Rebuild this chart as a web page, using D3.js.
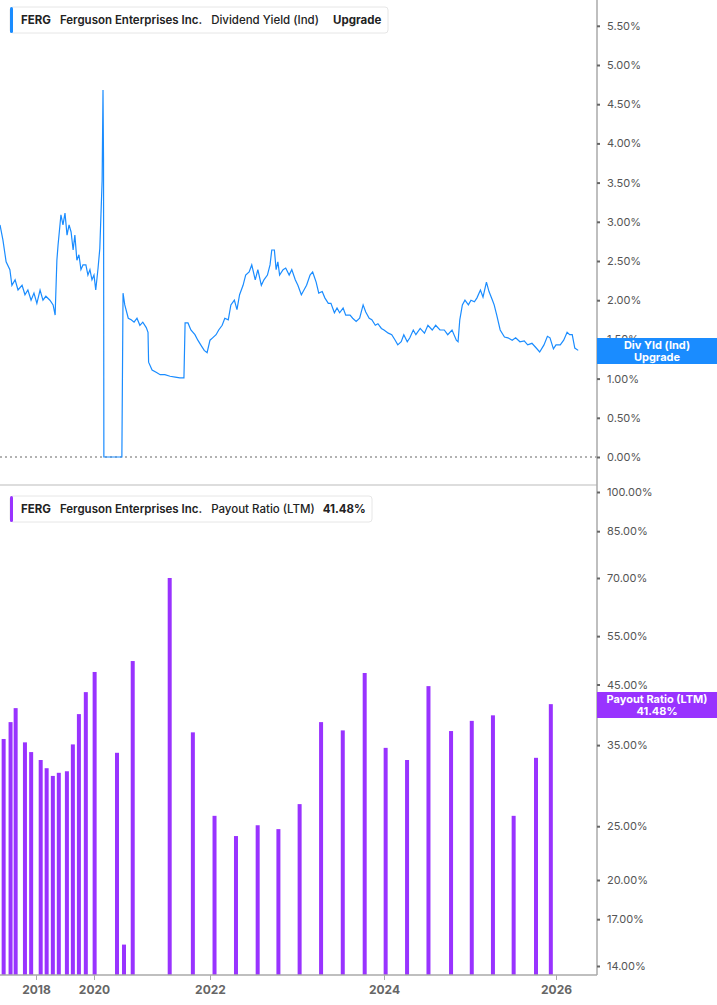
<!DOCTYPE html>
<html><head><meta charset="utf-8">
<script src="https://cdn.jsdelivr.net/npm/d3@7"></script>
<style>body{margin:0;background:#fff;font-family:Inter,"Noto Sans",sans-serif;}</style>
</head><body>
<script>
// dividend yield (%), dates as decimal years
var yldDates = [2016.76,2016.86,2016.97,2017.10,2017.17,2017.28,2017.38,2017.52,2017.62,2017.72,2017.83,2017.93,2018.03,2018.14,2018.24,2018.34,2018.48,2018.59,2018.66,2018.72,2018.76,2018.86,2018.93,2019.00,2019.07,2019.14,2019.21,2019.28,2019.34,2019.41,2019.48,2019.55,2019.62,2019.72,2019.79,2019.86,2019.93,
 2020.00,2020.03,2020.07,2020.10,2020.14,2020.155,2020.164,2020.17,2020.48,2020.50,2020.53,2020.59,2020.64,2020.69,2020.74,2020.79,2020.84,2020.90,2020.93,2020.94,2021.00,2021.07,2021.14,2021.22,2021.31,2021.40,2021.48,2021.55,2021.57,2021.62,2021.67,2021.74,2021.79,2021.84,2021.90,2021.95,
 2022.00,2022.03,2022.07,2022.10,2022.14,2022.17,2022.21,2022.24,2022.28,2022.31,2022.34,2022.38,2022.41,2022.45,2022.48,2022.52,2022.55,2022.59,2022.62,2022.66,2022.69,2022.71,2022.74,2022.76,2022.78,2022.80,2022.84,2022.87,2022.91,2022.94,2022.98,2023.01,2023.05,2023.08,2023.11,2023.15,2023.18,2023.22,2023.25,2023.29,2023.32,2023.36,2023.39,2023.43,2023.46,2023.49,2023.53,2023.56,2023.61,2023.64,2023.68,2023.72,2023.76,2023.79,2023.83,2023.86,2023.90,2023.93,2023.97,
 2024.00,2024.05,2024.09,2024.13,2024.16,2024.20,2024.23,2024.27,2024.30,2024.34,2024.37,2024.42,2024.47,2024.51,2024.56,2024.60,2024.65,2024.70,2024.74,2024.79,2024.84,2024.86,2024.88,2024.91,2024.94,2024.98,2025.01,2025.05,2025.08,2025.12,2025.15,2025.19,2025.22,2025.26,2025.28,2025.31,2025.35,2025.40,2025.44,2025.49,2025.53,2025.58,2025.63,2025.67,2025.72,2025.77,2025.81,2025.86,2025.90,2025.93,2025.97,2026.00,2026.05,2026.09,2026.13,2026.16,2026.19,2026.22,2026.26];
var yldValues = [2.96,2.77,2.49,2.39,2.19,2.26,2.13,2.19,2.07,2.13,2.00,2.09,1.96,2.13,2.00,2.05,2.00,1.94,1.81,2.51,2.70,3.09,2.96,3.11,2.83,2.96,2.87,2.64,2.83,2.51,2.58,2.39,2.45,2.45,2.32,2.39,2.26,
 2.32,2.13,2.41,2.66,3.53,4.68,3.79,0,0,2.09,1.94,1.77,1.75,1.72,1.77,1.68,1.72,1.65,1.59,1.21,1.11,1.08,1.05,1.05,1.03,1.02,1.01,1.01,1.71,1.71,1.62,1.56,1.49,1.43,1.36,1.33,
 1.49,1.52,1.56,1.62,1.68,1.77,1.75,1.94,2.00,1.88,2.07,2.19,2.32,2.36,2.45,2.26,2.39,2.19,2.26,2.32,2.45,2.64,2.64,2.39,2.49,2.32,2.39,2.41,2.32,2.39,2.26,2.19,2.07,2.13,2.19,2.32,2.36,2.23,2.09,2.11,2.03,1.96,1.96,1.84,1.90,1.84,1.90,1.81,1.81,1.77,1.73,1.77,1.94,1.85,1.77,1.75,1.68,1.70,1.64,
 1.62,1.58,1.56,1.49,1.43,1.47,1.56,1.47,1.52,1.62,1.56,1.64,1.58,1.68,1.62,1.68,1.62,1.62,1.56,1.62,1.49,1.47,1.75,1.94,2.00,1.94,2.00,1.98,2.03,2.13,2.04,2.23,2.11,2.00,1.94,1.81,1.62,1.53,1.52,1.49,1.52,1.47,1.48,1.43,1.45,1.39,1.34,1.43,1.54,1.52,1.38,1.43,1.43,1.49,1.59,1.56,1.56,1.39,1.36];

// payout ratio LTM (%)
var payDates = ["2016-11-20","2017-02-15","2017-04-20","2017-08-15","2017-11-01","2018-03-01","2018-05-15","2018-08-01","2018-10-15","2019-01-25","2019-04-10","2019-06-25","2019-09-20","2020-01-05","2020-05-25","2020-07-08","2020-09-01","2021-04-22","2021-09-15","2022-01-20","2022-04-20","2022-07-20","2022-10-15","2023-01-12","2023-04-12","2023-07-12","2023-10-12","2024-01-08","2024-04-08","2024-07-08","2024-10-12","2025-01-08","2025-04-08","2025-07-05","2025-10-08","2025-12-10"];
var payValues = [35.9,38.5,40.8,35.4,34.0,32.9,31.8,30.8,31.2,31.4,35.1,39.8,43.6,47.4,33.9,15.3,49.6,70.0,36.9,26.1,24.0,25.1,24.7,27.4,38.5,37.2,47.2,34.6,32.9,44.7,37.1,38.7,39.6,26.1,33.2,41.48];

var yldTicks = [0,0.5,1,1.5,2,2.5,3,3.5,4,4.5,5,5.5];
var payTicks = [14,17,20,25,35,45,55,70,85,100];
var yearTicks = [2018,2020,2022,2024,2026];

function toDate(t){ var y=Math.floor(t), s=new Date(y,0,1), e=new Date(y+1,0,1); return new Date(+s+(t-y)*(e-s)); }

var W=717, H=1005, R=597;
var BLUE="#1a8cff", PURPLE="#9933ff", GREY="#555";
var svg=d3.select("body").append("svg").attr("width",W).attr("height",H).style("font-family","Inter, 'Noto Sans', sans-serif");

// x axis is uneven in the source, so piecewise
var x=d3.scaleTime()
  .domain([toDate(2016.76),toDate(2018),toDate(2020),toDate(2022),toDate(2024),toDate(2026),toDate(2026.48)])
  .range([0,36,94,210,384,556,R]);

var y1=d3.scaleLinear().domain([0,1]).range([457,378.6]);
var y2=d3.scaleLog().domain([14,100]).range([966,492]);

// panel divider
svg.append("line").attr("x1",0).attr("x2",R).attr("y1",485).attr("y2",485).attr("stroke","#ddd").attr("stroke-width",2);

// zero dotted
svg.append("line").attr("x1",0).attr("x2",R).attr("y1",y1(0)).attr("y2",y1(0)).attr("stroke","#666").attr("stroke-dasharray","2,3");

var yld=yldDates.map(function(d,i){return {d:toDate(d),v:yldValues[i]};});
svg.append("path").datum(yld).attr("fill","none").attr("stroke",BLUE).attr("stroke-width",1.2)
  .attr("d",d3.line().x(function(d){return x(d.d);}).y(function(d){return y1(d.v);}));

svg.selectAll("rect.bar").data(payValues).enter().append("rect").attr("class","bar")
  .attr("x",function(d,i){return x(new Date(payDates[i]))-2;}).attr("width",4)
  .attr("y",function(d){return y2(d);}).attr("height",function(d){return 975-y2(d);})
  .attr("fill",PURPLE);

// right axes
svg.append("line").attr("x1",R).attr("x2",R).attr("y1",0).attr("y2",975).attr("stroke","#aaa").attr("stroke-width",1.5);
svg.append("line").attr("x1",0).attr("x2",R).attr("y1",975).attr("y2",975).attr("stroke","#aaa").attr("stroke-width",1.5);

var ax1=svg.append("g").attr("transform","translate("+R+",0)")
  .call(d3.axisRight(y1).tickValues(yldTicks).tickSize(3).tickFormat(function(d){return d.toFixed(2)+"%";}));
var ax2=svg.append("g").attr("transform","translate("+R+",0)")
  .call(d3.axisRight(y2).tickValues(payTicks).tickSize(3).tickFormat(function(d){return d.toFixed(2)+"%";}));
[ax1,ax2].forEach(function(a){
  a.select(".domain").remove();
  a.selectAll("line").attr("stroke","#666").attr("stroke-width",2);
  a.selectAll("text").attr("x",10).attr("fill",GREY).style("font-size","11px").style("font-family","Inter, sans-serif");
});

var ax3=svg.append("g").attr("transform","translate(0,975)")
  .call(d3.axisBottom(x).tickValues(yearTicks.map(toDate)).tickSize(5).tickFormat(d3.timeFormat("%Y")));
ax3.select(".domain").remove();
ax3.selectAll("line").attr("stroke","#aaa");
ax3.selectAll("text").attr("y",10).attr("fill","#666").style("font-size","12px").style("font-weight","bold").style("font-family","Inter, sans-serif");

// right value labels
function tag(yc, color, l1, l2){
  svg.append("rect").attr("x",R).attr("y",yc-13).attr("width",W-R).attr("height",26).attr("fill",color);
  svg.append("text").attr("x",(R+W)/2).attr("y",yc-2).attr("text-anchor","middle").attr("fill","#fff").style("font-size","11px").style("font-weight","bold").text(l1);
  svg.append("text").attr("x",(R+W)/2).attr("y",yc+10).attr("text-anchor","middle").attr("fill","#fff").style("font-size","11px").style("font-weight","bold").text(l2);
}
tag(351, BLUE, "Div Yld (Ind)", "Upgrade");
tag(705, PURPLE, "Payout Ratio (LTM)", "41.48%");

// legends
function legend(y, w, color, parts){
  svg.append("rect").attr("x",10).attr("y",y).attr("width",w).attr("height",26).attr("rx",3).attr("fill","#fff").attr("stroke","#e6e6e6");
  svg.append("rect").attr("x",10).attr("y",y).attr("width",3).attr("height",26).attr("rx",1.5).attr("fill",color);
  var t=svg.append("text").attr("x",21).attr("y",y+17).attr("fill","#222").style("font-size","11.5px");
  parts.forEach(function(p){ t.append("tspan").attr("dx",p[1]).style("font-weight",p[2]).text(p[0]); });
}
legend(7, 378, BLUE, [["FERG",0,"bold"],["Ferguson Enterprises Inc.",9,"600"],["Dividend Yield (Ind)",9,"500"],["Upgrade",14,"bold"]]);
legend(496, 362, PURPLE, [["FERG",0,"bold"],["Ferguson Enterprises Inc.",9,"600"],["Payout Ratio (LTM)",9,"500"],["41.48%",8,"bold"]]);
</script>
</body></html>
